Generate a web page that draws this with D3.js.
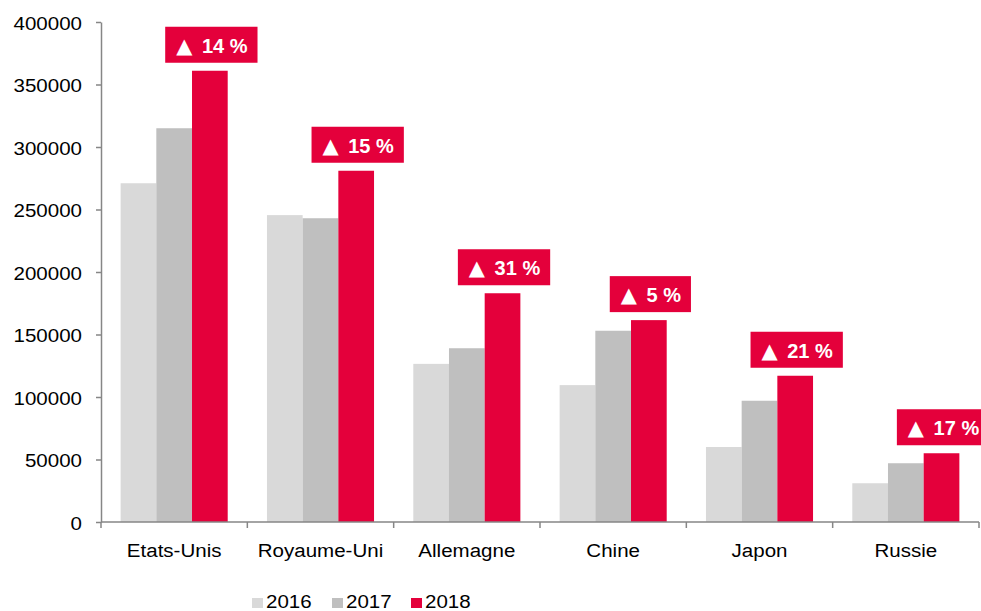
<!DOCTYPE html>
<html>
<head>
<meta charset="utf-8">
<script src="https://cdn.jsdelivr.net/npm/d3@7"></script>
<style>
  body { margin: 0; background: #fff; }
  svg { font-family: Arial, "Liberation Sans", sans-serif; }
</style>
</head>
<body>
<div class="canvas"></div>
<script>
// data
var countries = ["Etats-Unis", "Royaume-Uni", "Allemagne", "Chine", "Japon", "Russie"];
var years = ["2016", "2017", "2018"];
var values2016 = [271000, 245500, 126500, 109500, 60000, 31000];
var values2017 = [315000, 243000, 139000, 153000, 97000, 47000];
var values2018 = [361000, 281000, 183000, 161500, 117000, 55000];
var growth = ["14 %", "15 %", "31 %", "5 %", "21 %", "17 %"];
var yTicks = [0, 50000, 100000, 150000, 200000, 250000, 300000, 350000, 400000];
var colors = ["#d9d9d9", "#bfbfbf", "#e4003b"];

var width = 981, height = 611;
var margin = {left: 101, right: 2, top: 22, bottom: 89};
var stretch = 1.08; // text in the original is a bit wide

var svg = d3.select('.canvas').append('svg')
  .attr('width', width).attr('height', height);

var x = d3.scaleBand()
  .domain(countries)
  .range([margin.left, width - margin.right]);

var y = d3.scaleLinear()
  .domain([0, 400000])
  .range([height - margin.bottom, margin.top]);

var inner = d3.scaleBand()
  .domain(years)
  .range([0, x.bandwidth()])
  .paddingInner(0)
  .paddingOuter(0.55);

var series = years.map(function (yr, i) {
  var vals = [values2016, values2017, values2018][i];
  return countries.map(function (c, j) { return {country: c, year: yr, value: vals[j], idx: i}; });
});

// put a text at (tx, ty) stretched horizontally
function wideText(sel, tx, ty) {
  return sel.attr('x', 0).attr('y', 0)
    .attr('transform', 'translate(' + tx + ',' + ty + ') scale(' + stretch + ',1)');
}

// bars
series.forEach(function (s) {
  svg.append('g').selectAll('rect')
    .data(s)
    .enter()
    .append('rect')
    .attr('x', function (d) { return x(d.country) + inner(d.year); })
    .attr('y', function (d) { return y(d.value); })
    .attr('width', inner.bandwidth())
    .attr('height', function (d) { return y(0) - y(d.value); })
    .attr('fill', function (d) { return colors[d.idx]; });
});

// y axis
var yAxis = svg.append('g')
  .attr('transform', 'translate(' + margin.left + ',0)')
  .call(d3.axisLeft(y).tickValues(yTicks).tickSize(5).tickSizeOuter(0).tickFormat(d3.format('d')));
yAxis.select('.domain').attr('stroke', '#868686').attr('stroke-width', 1.5);
yAxis.selectAll('.tick line').attr('stroke', '#868686').attr('stroke-width', 1.5);
yAxis.selectAll('.tick text')
  .attr('font-size', 19).attr('fill', '#000')
  .attr('font-family', 'Arial, "Liberation Sans", sans-serif')
  .attr('dy', null)
  .each(function () { wideText(d3.select(this), -19, 7); });

// x axis, ticks at category boundaries
var xg = svg.append('g').attr('transform', 'translate(0,' + y(0) + ')');
xg.append('line')
  .attr('x1', margin.left).attr('x2', width - margin.right)
  .attr('stroke', '#868686').attr('stroke-width', 1.5);
xg.selectAll('line.bound')
  .data(countries.concat(['end']))
  .enter()
  .append('line')
  .attr('class', 'bound')
  .attr('x1', function (d, i) { return margin.left + i * x.step(); })
  .attr('x2', function (d, i) { return margin.left + i * x.step(); })
  .attr('y1', 0).attr('y2', 6)
  .attr('stroke', '#868686').attr('stroke-width', 1.5);
xg.selectAll('text')
  .data(countries)
  .enter()
  .append('text')
  .attr('text-anchor', 'middle')
  .attr('font-size', 19)
  .attr('fill', '#000')
  .text(function (d) { return d; })
  .each(function (d) { wideText(d3.select(this), x(d) + x.bandwidth() / 2, 35); });

// growth labels
var labels = svg.append('g').selectAll('g')
  .data(series[2])
  .enter()
  .append('g')
  .attr('transform', function (d) {
    return 'translate(' + (x(d.country) + inner('2018') + inner.bandwidth() / 2) + ',' + (y(d.value) - 8) + ')';
  });
labels.each(function (d, i) {
  var g = d3.select(this);
  var txt = g.append('text')
    .attr('x', 2).attr('y', -10)
    .attr('text-anchor', 'middle')
    .attr('font-size', 20)
    .attr('font-weight', 'bold')
    .attr('fill', '#fff');
  txt.append('tspan')
    .attr('font-family', '"DejaVu Sans", sans-serif')
    .attr('font-size', 21)
    .attr('font-weight', 'normal')
    .text('\u25B2');
  txt.append('tspan')
    .attr('dx', 4)
    .text('\u00A0' + growth[i]);
  var w = txt.node().getComputedTextLength() + 4;
  g.insert('rect', 'text')
    .attr('x', 2 - w / 2 - 11).attr('y', -36)
    .attr('width', w + 21).attr('height', 36)
    .attr('fill', '#e4003b');
});

// legend
var legend = svg.append('g').attr('transform', 'translate(252,608)');
var lx = [0, 80, 159];
years.forEach(function (yr, i) {
  legend.append('rect')
    .attr('x', lx[i]).attr('y', -10)
    .attr('width', 11).attr('height', 10)
    .attr('fill', colors[i]);
  legend.append('text')
    .attr('font-size', 19)
    .attr('fill', '#000')
    .text(yr)
    .each(function () { wideText(d3.select(this), lx[i] + 14, 0); });
});
</script>
</body>
</html>
